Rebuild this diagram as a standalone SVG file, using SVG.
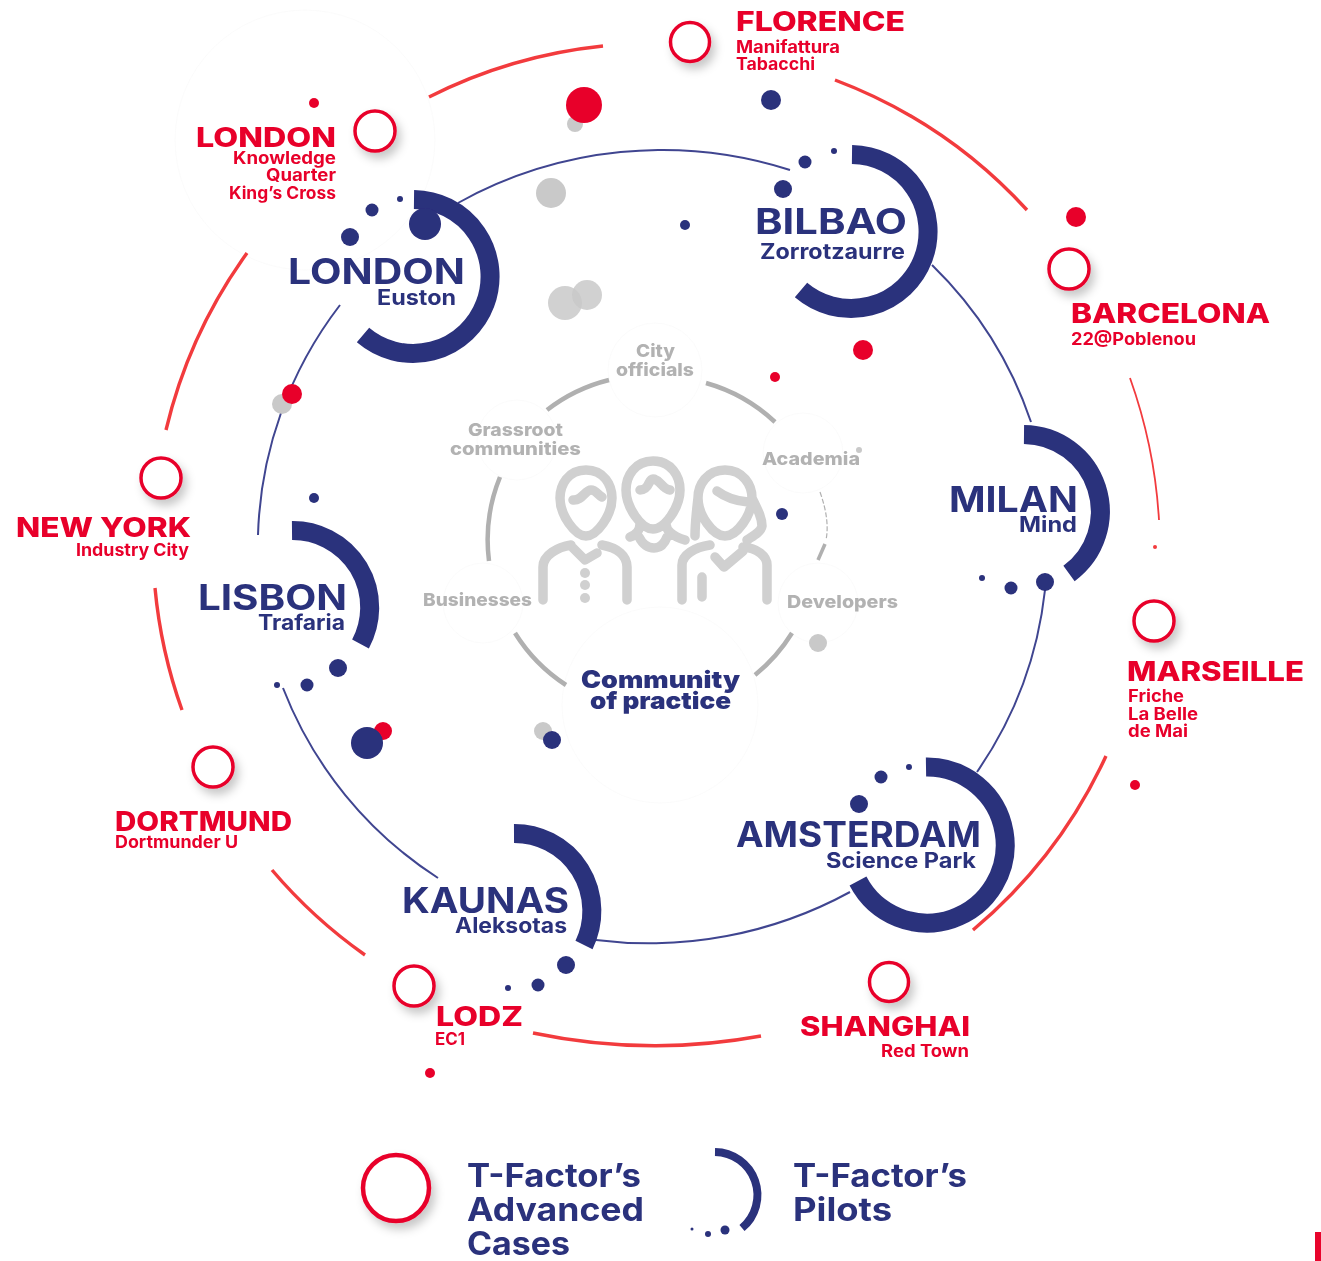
<svg xmlns="http://www.w3.org/2000/svg" width="1321" height="1261" viewBox="0 0 1321 1261">
<defs>
<style>
text{font-family:"Inter","Open Sans","Liberation Sans",sans-serif;}
.t{font-weight:800;font-size:27px;fill:#e8042c}
.s{font-weight:700;font-size:17px;fill:#e8042c}
.T{font-weight:700;font-size:35px;fill:#2b307c}
.S{font-weight:700;font-size:21px;fill:#2b307c}
.g{font-weight:800;font-size:18px;fill:#b2b2b2}
.c{font-weight:900;font-size:24px;fill:#2b307c}
.l{font-weight:700;font-size:32px;fill:#2b307c}
.ring{fill:#fff;stroke:#e8042c;stroke-width:3.500;filter:url(#sh)}
.pilot{fill:none;stroke:#2b307c;stroke-width:19}
.blue{fill:none;stroke:#3f4590;stroke-width:2}
.red{fill:none;stroke:#f23a3e;stroke-width:3.400}
.gr{fill:none;stroke:#b0b0b0;stroke-width:4.500}
.n{fill:#2b307c}.r{fill:#e8042c}.y{fill:#c9c9c9}
.p{fill:none;stroke:#d0d0d0;stroke-width:9.500;stroke-linecap:round;stroke-linejoin:round}
.f{fill:#fff;stroke:#fbfbfb;stroke-width:1}
</style>
<filter id="sh" x="-60%" y="-60%" width="240%" height="240%"><feDropShadow dx="4" dy="6" stdDeviation="5" flood-color="#000" flood-opacity=".22"/></filter>
<filter id="b" filterUnits="userSpaceOnUse" x="0" y="0" width="1321" height="1261"><feGaussianBlur stdDeviation=".7"/></filter>
</defs>
<rect width="1321" height="1261" fill="#fff"/>
<g filter="url(#b)">
<g id="backdrops">
<circle class="f" cx="305" cy="140" r="130"/><circle class="f" cx="655" cy="370" r="47"/><circle class="f" cx="517" cy="440" r="40"/><circle class="f" cx="803" cy="453" r="40"/><circle class="f" cx="483" cy="603" r="40"/><circle class="f" cx="818" cy="603" r="40"/><circle class="f" cx="660" cy="705" r="98"/>
</g>
<g id="connectors">
<path class="blue" d="M458 203A420 420 0 0 1 790 170M932 265A396 396 0 0 1 1031 422M1045 590A396 396 0 0 1 977 772M850 892A420 420 0 0 1 596 940M438 878A396 396 0 0 1 283 688M258 535A396 396 0 0 1 340 305"/>
<path class="red" d="M429 97A500 500 0 0 1 603 46M835 80A500 500 0 0 1 1027 210M1106 756A500 500 0 0 1 973 930M761 1036A590 590 0 0 1 533 1033M365 955A500 500 0 0 1 272 870M182 710A500 500 0 0 1 155 588M166 430A500 500 0 0 1 247 253"/>
<path d="M1130 378A510 510 0 0 1 1159 520" fill="none" stroke="#f23a3e" stroke-width="1.800"/>
<circle cx="1155" cy="547" r="2" fill="#f23a3e"/>
<path class="gr" d="M547 410A167 167 0 0 1 609 380M489 561A167 167 0 0 1 500 477M566 685A167 167 0 0 1 515 633M792 633A167 167 0 0 1 755 675M706 383A167 167 0 0 1 775 422"/>
<path d="M820 492Q830 520 826 540" fill="none" stroke="#b0b0b0" stroke-width="1.200" stroke-dasharray="5 2"/><path d="M825 544L818 560" fill="none" stroke="#b0b0b0" stroke-width="3.500"/>
</g>
<g id="dots">
<g class="y">
<circle cx="575" cy="124" r="8"/><circle cx="551" cy="193" r="15"/><circle cx="565" cy="303" r="17" opacity=".85"/><circle cx="587" cy="295" r="15" opacity=".85"/><circle cx="282" cy="404" r="10"/><circle cx="818" cy="643" r="9"/><circle cx="543" cy="731" r="9"/><circle cx="859" cy="450" r="3"/>
</g>
<g class="r">
<circle cx="584" cy="105" r="18"/><circle cx="1076" cy="217" r="10"/><circle cx="863" cy="350" r="10"/><circle cx="775" cy="377" r="5"/><circle cx="314" cy="103" r="5"/><circle cx="292" cy="394" r="10"/><circle cx="383" cy="731" r="9"/><circle cx="1135" cy="785" r="5"/><circle cx="430" cy="1073" r="5"/>
</g>
<g class="n">
<circle cx="771" cy="100" r="10"/><circle cx="685" cy="225" r="5"/><circle cx="782" cy="514" r="6"/><circle cx="314" cy="498" r="5"/><circle cx="367" cy="743" r="16"/><circle cx="552" cy="740" r="9"/>
</g>
</g>
<g id="people">
<path class="p" d="M586 470C604 470 612 485 612 498C612 515 597 536 586 536C575 536 560 515 560 498C560 485 568 470 586 470ZM573 500C582 501 585 490 591 490C596 490 598 495 602 497M543 600V567C543 555 558 547 571 545M573 548L585 560L597 553M602 545C618 548 627 556 627 567V600"/>
<circle cx="585" cy="573" r="5" fill="#d0d0d0"/><circle cx="585" cy="585" r="5" fill="#d0d0d0"/><circle cx="585" cy="598" r="5" fill="#d0d0d0"/>
<path class="p" d="M653 461C671 461 680 476 680 490C680 507 665 529 653 529C641 529 626 507 626 490C626 476 635 461 653 461ZM640 490C650 490 648 479 653 479C660 479 662 489 670 490M640 524C640 530 636 535 630 537M666 524C666 530 672 536 685 540M639 537C643 545 648 548 654 548C660 548 664 545 667 537"/>
<path class="p" d="M725 470C743 470 752 485 752 498C752 515 737 536 725 536C713 536 698 515 698 498C698 485 707 470 725 470ZM717 491C725 497 735 501 748 502M698 498C696 515 695 525 695 536M752 498C758 510 762 518 762 526C761 532 753 536 747 540M682 600V565C682 555 695 547 710 545M715 557L724 567L743 551M743 547C757 548 767 556 767 565V600M702 577V597"/>
</g>
<g id="community">
<text class="g" x="636" y="357" textLength="39" lengthAdjust="spacingAndGlyphs">City</text>
<text class="g" x="616" y="376" textLength="78" lengthAdjust="spacingAndGlyphs">officials</text>
<text class="g" x="468" y="436" textLength="95" lengthAdjust="spacingAndGlyphs">Grassroot</text>
<text class="g" x="450" y="455" textLength="131" lengthAdjust="spacingAndGlyphs">communities</text>
<text class="g" x="762" y="465" textLength="98" lengthAdjust="spacingAndGlyphs">Academia</text>
<text class="g" x="423" y="606" textLength="109" lengthAdjust="spacingAndGlyphs">Businesses</text>
<text class="g" x="787" y="608" textLength="111" lengthAdjust="spacingAndGlyphs">Developers</text>
<text class="c" x="581" y="688" textLength="159" lengthAdjust="spacingAndGlyphs">Community</text>
<text class="c" x="590" y="709" textLength="141" lengthAdjust="spacingAndGlyphs">of practice</text>
</g>
<g id="pilot-london"><path class="pilot" d="M414 199.500A77 77 0 1 1 363 335"/><circle class="n" cx="425" cy="224" r="16"/><circle class="n" cx="372" cy="210" r="6.500"/><circle class="n" cx="400" cy="199" r="3"/><circle class="n" cx="350" cy="237" r="9"/><text class="T" x="288" y="284" textLength="177" lengthAdjust="spacingAndGlyphs">LONDON</text><text class="S" x="377" y="305" textLength="79" lengthAdjust="spacingAndGlyphs">Euston</text></g>
<g id="pilot-bilbao"><path class="pilot" d="M852 154.500A77 77 0 1 1 801 290"/><circle class="n" cx="783" cy="189" r="9"/><circle class="n" cx="805" cy="162" r="6.500"/><circle class="n" cx="834" cy="151" r="3"/><text class="T" x="755" y="234" textLength="152" lengthAdjust="spacingAndGlyphs">BILBAO</text><text class="S" x="760" y="259" textLength="145" lengthAdjust="spacingAndGlyphs">Zorrotzaurre</text></g>
<g id="pilot-milan"><path class="pilot" d="M1024 434.500A77 77 0 0 1 1069 573.500"/><circle class="n" cx="1045" cy="582" r="9"/><circle class="n" cx="1011" cy="588" r="6.500"/><circle class="n" cx="982" cy="578" r="3"/><text class="T" x="949" y="512" textLength="129" lengthAdjust="spacingAndGlyphs">MILAN</text><text class="S" x="1019" y="532" textLength="58" lengthAdjust="spacingAndGlyphs">Mind</text></g>
<g id="pilot-amsterdam"><path class="pilot" d="M926 767A78 78 0 1 1 858 881"/><circle class="n" cx="859" cy="804" r="9"/><circle class="n" cx="881" cy="777" r="6.500"/><circle class="n" cx="909" cy="767" r="3"/><text class="T" x="736" y="847" textLength="245" lengthAdjust="spacingAndGlyphs">AMSTERDAM</text><text class="S" x="826" y="868" textLength="150" lengthAdjust="spacingAndGlyphs">Science Park</text></g>
<g id="pilot-lisbon"><path class="pilot" d="M292 530.500A77 77 0 0 1 360.500 644"/><circle class="n" cx="338" cy="668" r="9"/><circle class="n" cx="307" cy="685" r="6.500"/><circle class="n" cx="277" cy="685" r="3"/><text class="T" x="198" y="610" textLength="149" lengthAdjust="spacingAndGlyphs">LISBON</text><text class="S" x="258" y="630" textLength="87" lengthAdjust="spacingAndGlyphs">Trafaria</text></g>
<g id="pilot-kaunas"><path class="pilot" d="M514 833.500A77.500 77.500 0 0 1 584 945"/><circle class="n" cx="566" cy="965" r="9"/><circle class="n" cx="538" cy="985" r="6.500"/><circle class="n" cx="508" cy="988" r="3"/><text class="T" x="402" y="913" textLength="167" lengthAdjust="spacingAndGlyphs">KAUNAS</text><text class="S" x="455" y="933" textLength="112" lengthAdjust="spacingAndGlyphs">Aleksotas</text></g>
<g id="case-florence"><circle class="ring" cx="690" cy="42" r="19.500"/><text class="t" x="736" y="31" textLength="169" lengthAdjust="spacingAndGlyphs">FLORENCE</text><text class="s" x="736" y="53" textLength="104" lengthAdjust="spacingAndGlyphs">Manifattura</text><text class="s" x="736" y="70" textLength="79" lengthAdjust="spacingAndGlyphs">Tabacchi</text></g>
<g id="case-london"><circle class="ring" cx="375" cy="131" r="20"/><text class="t" x="196" y="147" textLength="140" lengthAdjust="spacingAndGlyphs">LONDON</text><text class="s" x="233" y="164" textLength="103" lengthAdjust="spacingAndGlyphs">Knowledge</text><text class="s" x="266" y="181" textLength="70" lengthAdjust="spacingAndGlyphs">Quarter</text><text class="s" x="229" y="199" textLength="107" lengthAdjust="spacingAndGlyphs">King’s Cross</text></g>
<g id="case-barcelona"><circle class="ring" cx="1069" cy="269" r="20"/><text class="t" x="1071" y="323" textLength="199" lengthAdjust="spacingAndGlyphs">BARCELONA</text><text class="s" x="1071" y="345" textLength="125" lengthAdjust="spacingAndGlyphs">22@Poblenou</text></g>
<g id="case-marseille"><circle class="ring" cx="1154" cy="621" r="20"/><text class="t" x="1127" y="681" textLength="177" lengthAdjust="spacingAndGlyphs">MARSEILLE</text><text class="s" x="1128" y="702" textLength="56" lengthAdjust="spacingAndGlyphs">Friche</text><text class="s" x="1128" y="720" textLength="70" lengthAdjust="spacingAndGlyphs">La Belle</text><text class="s" x="1128" y="737" textLength="60" lengthAdjust="spacingAndGlyphs">de Mai</text></g>
<g id="case-shanghai"><circle class="ring" cx="889" cy="982" r="19.500"/><text class="t" x="800" y="1036" textLength="170" lengthAdjust="spacingAndGlyphs">SHANGHAI</text><text class="s" x="881" y="1057" textLength="88" lengthAdjust="spacingAndGlyphs">Red Town</text></g>
<g id="case-lodz"><circle class="ring" cx="414" cy="986" r="20"/><text class="t" x="436" y="1026" textLength="87" lengthAdjust="spacingAndGlyphs">LODZ</text><text class="s" x="435" y="1045" textLength="30" lengthAdjust="spacingAndGlyphs">EC1</text></g>
<g id="case-dortmund"><circle class="ring" cx="213" cy="767" r="20"/><text class="t" x="115" y="831" textLength="177" lengthAdjust="spacingAndGlyphs">DORTMUND</text><text class="s" x="115" y="848" textLength="123" lengthAdjust="spacingAndGlyphs">Dortmunder U</text></g>
<g id="case-newyork"><circle class="ring" cx="161" cy="478" r="20"/><text class="t" x="16" y="537" textLength="175" lengthAdjust="spacingAndGlyphs">NEW YORK</text><text class="s" x="76" y="556" textLength="113" lengthAdjust="spacingAndGlyphs">Industry City</text></g>
<g id="legend">
<circle class="ring" cx="396" cy="1188" r="33" style="stroke-width:4.500"/>
<text class="l" x="467" y="1187" textLength="174" lengthAdjust="spacingAndGlyphs">T-Factor’s</text><text class="l" x="467" y="1221" textLength="177" lengthAdjust="spacingAndGlyphs">Advanced</text><text class="l" x="467" y="1255" textLength="103" lengthAdjust="spacingAndGlyphs">Cases</text>
<path d="M715 1152A43 43 0 0 1 742 1228" fill="none" stroke="#2b307c" stroke-width="8"/>
<circle class="n" cx="725" cy="1230" r="4.500"/><circle class="n" cx="708" cy="1234" r="3"/><circle class="n" cx="692" cy="1229" r="1.500"/>
<text class="l" x="793" y="1187" textLength="174" lengthAdjust="spacingAndGlyphs">T-Factor’s</text><text class="l" x="793" y="1221" textLength="99" lengthAdjust="spacingAndGlyphs">Pilots</text>
</g>
</g>
<rect x="1315" y="1232" width="6" height="29" fill="#e8042c"/>
</svg>
